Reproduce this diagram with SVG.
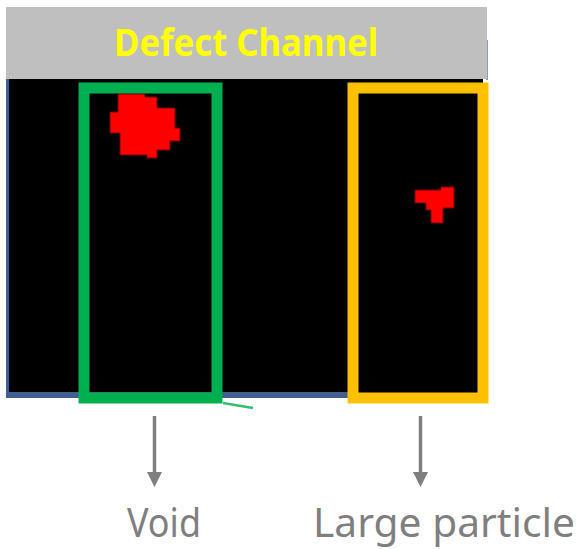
<svg xmlns="http://www.w3.org/2000/svg" width="579" height="549" viewBox="0 0 579 549">
  <style>
    .title { font-family: "Noto Sans", "Open Sans", "Liberation Sans", sans-serif; font-weight: bold; fill: #ffff00; }
    .label { font-family: "Noto Sans", "Open Sans", "Liberation Sans", sans-serif; fill: #7f7f7f; }
    .blob { fill: #ff0000; stroke: #7a0000; stroke-width: 1; stroke-linejoin: miter; }
    .frame { fill: none; stroke-linejoin: miter; }
    .conn { stroke: #7f7f7f; stroke-width: 3.5; fill: none; }
  </style>
  <defs>
    <marker id="arrow" viewBox="0 0 10 10" refX="0" refY="5" markerUnits="userSpaceOnUse" markerWidth="15" markerHeight="15" orient="auto">
      <path d="M0,0 L10,5 L0,10 z" fill="#7f7f7f"/>
    </marker>
  </defs>

  <rect width="579" height="549" fill="#ffffff"/>

  <!-- channel image: black field with blue left/bottom edge -->
  <g id="channel">
    <rect x="7" y="79" width="476" height="317" fill="#000000"/>
    <rect x="6" y="79" width="3" height="319" fill="#3e5f8f"/>
    <rect x="6" y="392" width="345" height="6" fill="#3e5f8f"/>
    <rect x="486" y="40" width="2" height="40" fill="#8a9cb8"/>
  </g>

  <!-- title bar -->
  <g id="header">
    <rect x="6" y="7" width="481" height="72" fill="#bfbfbf"/>
    <text class="title" x="114" y="56" font-size="37" textLength="264" lengthAdjust="spacingAndGlyphs">Defect Channel</text>
  </g>

  <!-- defects -->
  <g id="void-defect">
    <polygon class="blob" points="118,94 145,94 145,97 157,97 157,108 175,108 175,128 180,128 180,141 170,141 170,150 157,150 157,158 147,158 147,155 120,155 120,133 110,133 110,112 118,112"/>
  </g>
  <g id="particle-defect">
    <polygon class="blob" points="415,190 441,190 441,187 454,187 454,208 443,208 443,223 431,223 431,210 426,210 426,203 415,203"/>
  </g>

  <!-- highlight boxes -->
  <g id="void-box">
    <rect class="frame" x="84" y="88" width="133" height="310" stroke="#00b050" stroke-width="11"/>
    <line x1="223" y1="403" x2="253" y2="408" stroke="#00b050" stroke-width="2.5" opacity="0.8"/>
  </g>
  <g id="particle-box">
    <line x1="358" y1="394" x2="481" y2="394" stroke="#808080" stroke-width="2"/>
    <line x1="480" y1="93" x2="480" y2="394" stroke="#808080" stroke-width="2"/>
    <rect class="frame" x="353" y="88" width="130" height="310" stroke="#ffc000" stroke-width="11"/>
  </g>

  <!-- arrows -->
  <g id="connectors">
    <line class="conn" x1="154.5" y1="416" x2="154.5" y2="472" marker-end="url(#arrow)"/>
    <line class="conn" x1="420.5" y1="416" x2="420.5" y2="472" marker-end="url(#arrow)"/>
  </g>

  <!-- captions -->
  <g id="label-void">
    <text class="label" x="127" y="537" font-size="40" textLength="74" lengthAdjust="spacingAndGlyphs">Void</text>
  </g>
  <g id="label-particle">
    <text class="label" x="313" y="537" font-size="40" textLength="262" lengthAdjust="spacingAndGlyphs">Large particle</text>
  </g>
</svg>
